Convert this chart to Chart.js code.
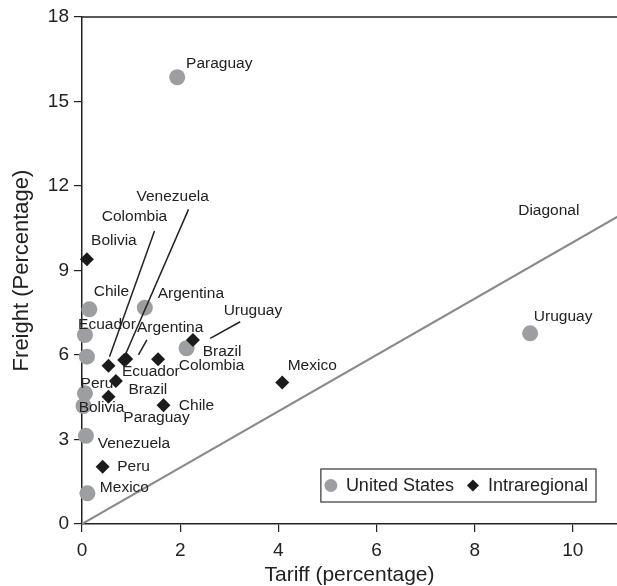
<!DOCTYPE html>
<html>
<head>
<meta charset="utf-8">
<script src="https://cdn.jsdelivr.net/npm/chart.js@4.4.1/dist/chart.umd.min.js"></script>
<style>
  html, body { margin: 0; padding: 0; background: #fff; overflow: hidden; }
  #wrap { width: 617px; height: 586px; position: relative; }
</style>
</head>
<body>
<div id="wrap"><canvas id="c"></canvas></div>
<script>
// Countries, in the same order for both series
const countries = ['Argentina', 'Bolivia', 'Brazil', 'Chile', 'Colombia', 'Ecuador',
                   'Mexico', 'Paraguay', 'Peru', 'Uruguay', 'Venezuela'];

// Trade with the United States: tariff and freight, percent
const usTariff  = [1.28, 0.03, 0.10, 0.15, 2.13, 0.06, 0.11, 1.94, 0.06, 9.13, 0.08];
const usFreight = [7.68, 4.19, 5.94, 7.62, 6.24, 6.71, 1.09, 15.86, 4.64, 6.77, 3.13];

// Intraregional trade: tariff and freight, percent
const irTariff  = [0.90, 0.10, 1.55, 1.66, 0.54, 0.69, 4.08, 0.54, 0.42, 2.26, 0.86];
const irFreight = [5.86, 9.40, 5.85, 4.22, 5.62, 5.08, 5.02, 4.52, 2.03, 6.53, 5.82];

// Reference diagonal (freight = tariff)
const diagonal = [0, 11];

// Tick labels
const xTicks = [0, 2, 4, 6, 8, 10];
const yTicks = [0, 3, 6, 9, 12, 15, 18];

const FONT = '"Liberation Sans", Arial, Helvetica, sans-serif';
const INK = '#222';

// Label placement, pixel offset of the text centre from its marker
const usLabelOffset = {
  Argentina: [46, -14], Bolivia: [18, 2], Brazil: [61, 33], Chile: [22, -18],
  Colombia: [25, 17], Ecuador: [22, -10], Mexico: [37, -6], Paraguay: [42, -14],
  Peru: [12, -10], Uruguay: [33, -17], Venezuela: [48, 8]
};
const irLabelOffset = {
  Argentina: [44, -31], Bolivia: [27, -19], Brazil: [64, -8], Chile: [33, 1],
  Colombia: [26, -149], Ecuador: [35, -9], Mexico: [30, -17], Paraguay: [48, 21],
  Peru: [31, 0], Uruguay: [60, -29], Venezuela: [48.5, -163]
};
// Leader lines from a label down to its marker: [start, end] offsets
const irLeaders = {
  Argentina: [[20.7, -19], [12.3, -4]],
  Colombia: [[46, -134.7], [1, -9]],
  Venezuela: [[64.3, -150.7], [1, -5]],
  Uruguay: [[47.3, -18.3], [17.3, -1.7]]
};

function pts(xs, ys) { return xs.map((x, i) => ({ x: x, y: ys[i] })); }

const pointLabels = {
  id: 'pointLabels',
  afterDatasetsDraw(chart) {
    const ctx = chart.ctx;
    ctx.save();
    ctx.fillStyle = INK;
    ctx.strokeStyle = INK;
    ctx.font = '15.5px ' + FONT;
    ctx.textAlign = 'center';
    ctx.textBaseline = 'middle';
    chart.data.datasets.forEach((ds, di) => {
      if (!ds.placement) return;
      const meta = chart.getDatasetMeta(di);
      meta.data.forEach((el, i) => {
        const name = countries[i];
        const off = ds.placement[name];
        if (off) ctx.fillText(name, el.x + off[0], el.y + off[1]);
        const lead = ds.leaders && ds.leaders[name];
        if (lead) {
          ctx.lineWidth = 1.5;
          ctx.beginPath();
          ctx.moveTo(el.x + lead[0][0], el.y + lead[0][1]);
          ctx.lineTo(el.x + lead[1][0], el.y + lead[1][1]);
          ctx.stroke();
        }
      });
    });
    // "Diagonal" caption above the reference line
    const xs = chart.scales.x, ys = chart.scales.y;
    ctx.fillText('Diagonal', xs.getPixelForValue(9.51), ys.getPixelForValue(11.11));
    ctx.restore();
  }
};

const frameAndLegend = {
  id: 'frameAndLegend',
  afterDraw(chart) {
    const ctx = chart.ctx, a = chart.chartArea;
    ctx.save();
    // top frame line
    ctx.strokeStyle = INK;
    ctx.lineWidth = 1.5;
    ctx.beginPath();
    ctx.moveTo(a.left, a.top);
    ctx.lineTo(a.right, a.top);
    ctx.stroke();

    // boxed legend inside the plot, lower right
    const items = chart.data.datasets.filter(d => d.legendRank)
      .sort((p, q) => p.legendRank - q.legendRank);
    ctx.font = '18px ' + FONT;
    ctx.textBaseline = 'middle';
    ctx.textAlign = 'left';
    const right = a.right - 21, bottom = a.bottom - 22, h = 33;
    const widths = items.map(d => ctx.measureText(d.label).width);
    const markerGap = 15, itemGap = 19, padL = 10, padR = 8;
    let w = padL + padR;
    items.forEach((d, i) => { w += markerGap + widths[i] + (i < items.length - 1 ? itemGap : 0); });
    const left = right - w, top = bottom - h, cy = top + h / 2;
    ctx.fillStyle = '#fff';
    ctx.fillRect(left, top, w, h);
    ctx.lineWidth = 1.2;
    ctx.strokeStyle = '#333';
    ctx.strokeRect(left, top, w, h);
    let x = left + padL;
    items.forEach((d, i) => {
      ctx.fillStyle = d.backgroundColor;
      ctx.beginPath();
      if (d.pointStyle === 'circle') {
        ctx.arc(x, cy, 6.5, 0, Math.PI * 2);
      } else {
        const r = 6;
        ctx.moveTo(x, cy - r); ctx.lineTo(x + r, cy); ctx.lineTo(x, cy + r); ctx.lineTo(x - r, cy);
        ctx.closePath();
      }
      ctx.fill();
      ctx.fillStyle = INK;
      ctx.fillText(d.label, x + markerGap, cy + 1);
      x += markerGap + widths[i] + itemGap;
    });
    ctx.restore();
  }
};

new Chart(document.getElementById('c'), {
  type: 'scatter',
  data: {
    datasets: [
      {
        label: 'Intraregional',
        data: pts(irTariff, irFreight),
        pointStyle: 'rectRot',
        pointRadius: 7,
        pointHoverRadius: 7,
        backgroundColor: '#1b1b1b',
        borderColor: '#1b1b1b',
        borderWidth: 0,
        clip: false,
        order: 0,
        legendRank: 2,
        placement: irLabelOffset,
        leaders: irLeaders
      },
      {
        label: 'United States',
        data: pts(usTariff, usFreight),
        pointStyle: 'circle',
        pointRadius: 8,
        pointHoverRadius: 8,
        backgroundColor: '#9d9ea2',
        borderColor: '#9d9ea2',
        borderWidth: 0,
        clip: false,
        order: 1,
        legendRank: 1,
        placement: usLabelOffset
      },
      {
        type: 'line',
        label: 'Diagonal',
        data: pts(diagonal, diagonal),
        borderColor: '#8a8a8a',
        borderWidth: 2,
        pointRadius: 0,
        fill: false,
        order: 2
      }
    ]
  },
  options: {
    responsive: true,
    maintainAspectRatio: false,
    animation: false,
    events: [],
    layout: { autoPadding: false, padding: { top: 17, right: 0, left: 0, bottom: 0 } },
    plugins: { legend: { display: false }, tooltip: { enabled: false } },
    scales: {
      x: {
        type: 'linear',
        min: 0,
        max: 10.9,
        afterBuildTicks: s => { s.ticks = xTicks.map(v => ({ value: v })); },
        afterFit: s => { s.height = 62; s.paddingRight = 0; s.paddingLeft = 0; },
        grid: { drawOnChartArea: false, drawTicks: true, tickLength: 8, color: INK, lineWidth: 1.2 },
        border: { display: true, color: INK, width: 1.5 },
        ticks: { color: INK, font: { family: FONT, size: 19 }, padding: 7, maxRotation: 0 },
        title: { display: true, text: 'Tariff (percentage)', color: INK,
                 font: { family: FONT, size: 21, lineHeight: 1.0 }, padding: { top: 0, bottom: 0 } }
      },
      y: {
        type: 'linear',
        min: 0,
        max: 18,
        afterBuildTicks: s => { s.ticks = yTicks.map(v => ({ value: v })); },
        afterFit: s => { s.width = 82; },
        grid: { drawOnChartArea: false, drawTicks: true, tickLength: 8, color: INK, lineWidth: 1.2 },
        border: { display: true, color: INK, width: 1.5 },
        ticks: { color: INK, font: { family: FONT, size: 19 }, padding: 5 },
        title: { display: true, text: 'Freight (Percentage)', color: INK,
                 font: { family: FONT, size: 22 }, padding: { top: 9, bottom: 0 } }
      }
    }
  },
  plugins: [pointLabels, frameAndLegend]
});
</script>
</body>
</html>
